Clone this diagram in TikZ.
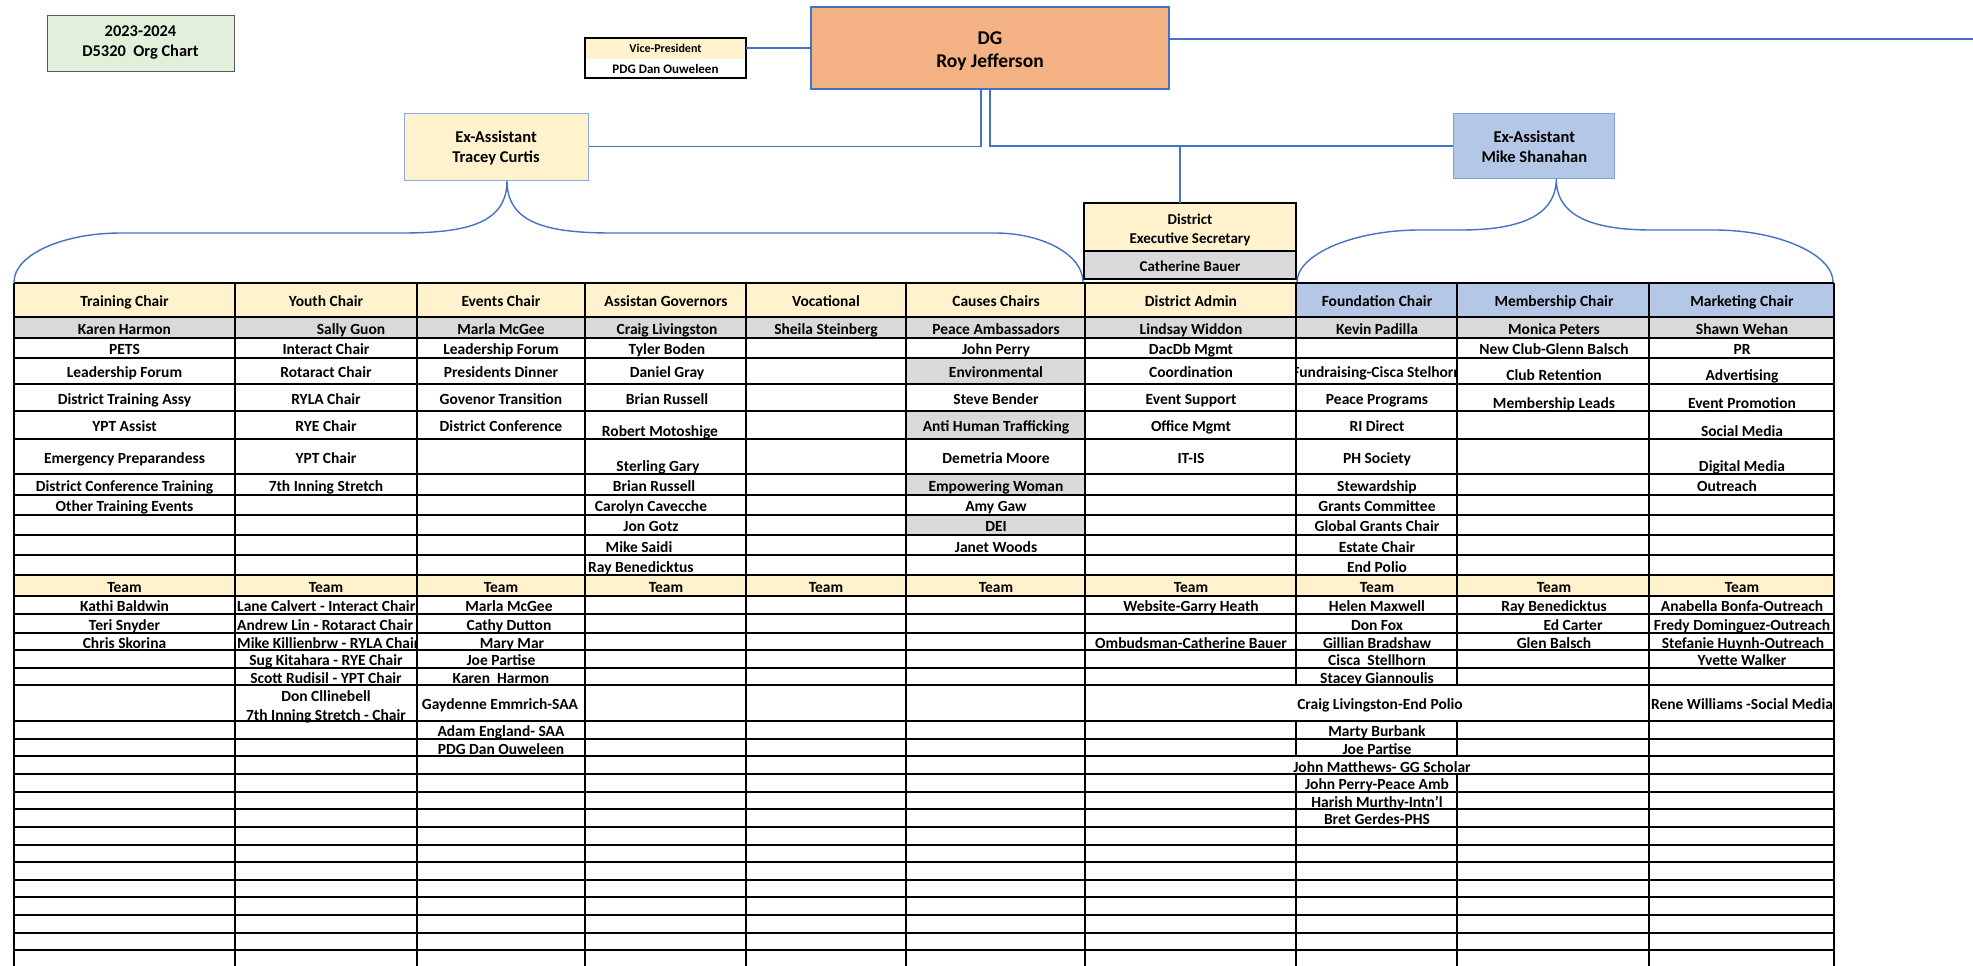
\documentclass[tikz,border=0pt]{standalone}
\usepackage{fontspec}
\setmainfont{Carlito}
\usetikzlibrary{positioning,calc}

\definecolor{hdryellow}{HTML}{FFF2CC}
\definecolor{hdrblue}{HTML}{B4C7E7}
\definecolor{cellgray}{HTML}{D9D9D9}
\definecolor{dgorange}{HTML}{F4B183}
\definecolor{titlegreen}{HTML}{E2EFDA}
\definecolor{linkblue}{HTML}{4472C4}
\definecolor{boxedge}{HTML}{8FAADC}

\tikzset{
  cell/.style={font=\bfseries\fontsize{15.5}{17}\selectfont, inner sep=0pt, text height=10.5pt, text depth=3.5pt, yshift=-2.5pt},
  link/.style={draw=linkblue, line width=1.8pt},
  brace/.style={draw=linkblue, line width=1.4pt},
  grid/.style={line width=1.6pt},
  topbox/.style={align=center, inner sep=0pt},
}

\begin{document}
\begin{tikzpicture}[x=1pt,y=-1pt]
\useasboundingbox (0,0) rectangle (1973,966);

% boxes on top
\node[topbox, draw=black!65, line width=0.8pt, fill=titlegreen, minimum width=187pt, minimum height=56pt,
  font=\bfseries\fontsize{16.4}{20}\selectfont] (title) at (140.5,43) {2023-2024\\D5320\ \ Org Chart};
\node[topbox, draw=linkblue, line width=1.2pt, fill=dgorange, minimum width=358pt, minimum height=82pt,
  font=\bfseries\fontsize{19.5}{22.6}\selectfont] (dg) at (990,48) {\rule{0pt}{19pt}DG\\Roy Jefferson};
\node[topbox, fill=hdryellow, minimum width=160pt, minimum height=21pt,
  font=\bfseries\fontsize{12}{14}\selectfont] (vptop) at (665.5,48.5) {Vice-President};
\node[topbox, fill=white, minimum width=160pt, minimum height=19pt,
  font=\bfseries\fontsize{13}{15}\selectfont] (vpbot) at (665.5,68.5) {PDG Dan Ouweleen};
\draw[line width=1.8pt] (vptop.north west) rectangle (vpbot.south east);
\node[topbox, draw=boxedge, line width=1pt, fill=hdryellow, minimum width=184pt, minimum height=67pt,
  font=\bfseries\fontsize{16.5}{20}\selectfont] (tracey) at (496,146.5) {\rule{0pt}{14.5pt}Ex-Assistant\\Tracey Curtis};
\node[topbox, draw=boxedge!80!linkblue, line width=1pt, fill=hdrblue, minimum width=161pt, minimum height=65pt,
  font=\bfseries\fontsize{16.5}{20}\selectfont] (mike) at (1534.3,145.7) {\rule{0pt}{14.5pt}Ex-Assistant\\Mike Shanahan};
\node[topbox, fill=hdryellow, minimum width=212pt, minimum height=48pt,
  font=\bfseries\fontsize{15}{19}\selectfont] (destop) at (1190,227) {\rule{0pt}{16pt}District\\Executive Secretary};
\node[topbox, fill=cellgray, minimum width=212pt, minimum height=28pt,
  font=\bfseries\fontsize{15}{17}\selectfont] (desbot) at (1190,265) {\rule{0pt}{12.5pt}Catherine Bauer};
\draw[line width=1.8pt] (destop.north west) rectangle (desbot.south east);
\draw[line width=1.8pt] (destop.south west) -- (destop.south east);

% connectors
\coordinate (farright) at (1973,39);
\draw[link] (vptop.east |- dg.west) -- (dg.west);
\draw[link] (dg.east |- farright) -- (farright);
\draw[link] ([xshift=-9pt]dg.south) |- (tracey.east);
\draw[link] (dg.south) |- (mike.west);
\draw[link] ([xshift=-10pt]destop.north) -- ([xshift=-10pt]destop.north |- mike.west);

% braces down to the table
\coordinate (tabL) at (14,282);
\coordinate (tabA) at (1083,282);
\coordinate (tabB) at (1297,282);
\coordinate (tabR) at (1833,282);
\draw[brace] (tabL) .. controls (14,255) and (62,233) .. (121,233) -- (402,233)
  .. controls (470,233) and (507,222) .. ([xshift=11pt]tracey.south)
  .. controls (507,222) and (544,233) .. (612,233) -- (995,233)
  .. controls (1043,233) and (1083,255) .. (tabA);
\draw[brace] (tabB) .. controls (1297,255) and (1352,230) .. (1420,230) -- (1460,230)
  .. controls (1520,230) and (1556,216) .. ([xshift=22pt]mike.south)
  .. controls (1556,216) and (1592,230) .. (1652,230) -- (1714,230)
  .. controls (1780,230) and (1833,255) .. (tabR);

% table fills
\fill[hdryellow] (14,283) rectangle (1296,317);
\fill[hdrblue] (1296,283) rectangle (1834,317);
\fill[cellgray] (14,317) rectangle (1834,338);
\foreach \a/\b in {358/384,411/439,474/495,515/535}
  \fill[cellgray] (906,\a) rectangle (1085,\b);
\fill[hdryellow] (14,575) rectangle (1834,596);

% table lines
\foreach \y in {317,338,358,384,411,439,474,495,515,535,555,575,596,614,633,650,668,685,721,739,756,774,792,809,827,845,862,880,897,915,933,950}
  \draw[grid] (14,\y) -- (1834,\y);
\draw[line width=2.6pt] (14,283) -- (1834,283);
\foreach \x in {14,235,417,585,746,906,1085,1649,1834}
  \draw[grid] (\x,283) -- (\x,972);
\foreach \x in {1296,1457} {
  \draw[grid] (\x,283) -- (\x,685);
  \draw[grid] (\x,721) -- (\x,756);
  \draw[grid] (\x,774) -- (\x,972);
}

% Training Chair
\foreach \y/\lbl [count=\k] in {300/Training Chair, 328/Karen Harmon, 348/PETS, 371/Leadership Forum,
  398/District Training Assy, 425/YPT Assist, 457/Emergency Preparandess, 485/District Conference Training,
  505/Other Training Events, 586/Team, 605/Kathi Baldwin, 624/Teri Snyder, 642/Chris Skorina}
  \node[cell] (train\k) at (124.5,\y) {\lbl};

% Youth Chair
\foreach \y/\lbl [count=\k] in {300/Youth Chair, 348/Interact Chair, 371/Rotaract Chair, 398/RYLA Chair,
  425/RYE Chair, 457/YPT Chair, 485/7th Inning Stretch, 586/Team, 659/Sug Kitahara - RYE Chair,
  677/Scott Rudisil - YPT Chair, 695/Don Cllinebell, 714/7th Inning Stretch - Chair}
  \node[cell] (youth\k) at (326,\y) {\lbl};
\node[cell] (sally) at (351,328) {Sally Guon};
\begin{scope}
  \clip (235,596) rectangle (416,650);
  \foreach \y/\lbl [count=\k] in {605/Lane Calvert - Interact Chair, 624/Andrew Lin - Rotaract Chair,
    642/Mike Killienbrw - RYLA Chair}
    \node[cell, anchor=west] (yteam\k) at (237,\y) {\lbl};
\end{scope}

% Events Chair
\foreach \x/\y/\lbl [count=\k] in {501/300/Events Chair, 501/328/Marla McGee, 501/348/Leadership Forum,
  501/371/Presidents Dinner, 501/398/Govenor Transition, 501/425/District Conference, 501/586/Team,
  509/605/Marla McGee, 509/624/Cathy Dutton, 512/642/Mary Mar, 501/659/Joe Partise, 501/677/Karen\ \ Harmon,
  500/703/Gaydenne Emmrich-SAA, 501/730/Adam England- SAA, 501/748/PDG Dan Ouweleen}
  \node[cell] (events\k) at (\x,\y) {\lbl};

% Assistan Governors
\foreach \x/\y/\lbl [count=\k] in {666/300/Assistan Governors, 667/328/Craig Livingston, 667/348/Tyler Boden,
  667/371/Daniel Gray, 667/398/Brian Russell, 660/430/Robert Motoshige, 658/465/Sterling Gary,
  654/485/Brian Russell, 651/505/Carolyn Cavecche, 651/525/Jon Gotz, 639/546/Mike Saidi, 666/586/Team}
  \node[cell] (asst\k) at (\x,\y) {\lbl};
\node[cell, anchor=west] (ray) at (588,566) {Ray Benedicktus};

% Vocational
\foreach \y/\lbl [count=\k] in {300/Vocational, 328/Sheila Steinberg, 586/Team}
  \node[cell] (voc\k) at (826,\y) {\lbl};

% Causes Chairs
\foreach \y/\lbl [count=\k] in {300/Causes Chairs, 328/Peace Ambassadors, 348/John Perry, 371/Environmental,
  398/Steve Bender, 425/Anti Human Trafficking, 457/Demetria Moore, 485/Empowering Woman, 505/Amy Gaw,
  525/DEI, 546/Janet Woods, 586/Team}
  \node[cell] (causes\k) at (996,\y) {\lbl};

% District Admin
\foreach \y/\lbl [count=\k] in {300/District Admin, 328/Lindsay Widdon, 348/DacDb Mgmt, 371/Coordination,
  398/Event Support, 425/Office Mgmt, 457/IT-IS, 586/Team, 605/Website-Garry Heath,
  642/Ombudsman-Catherine Bauer}
  \node[cell] (admin\k) at (1191,\y) {\lbl};

% Foundation Chair
\foreach \y/\lbl [count=\k] in {300/Foundation Chair, 328/Kevin Padilla, 398/Peace Programs, 425/RI Direct,
  457/PH Society, 485/Stewardship, 505/Grants Committee, 525/Global Grants Chair, 546/Estate Chair,
  566/End Polio, 586/Team, 605/Helen Maxwell, 624/Don Fox, 642/Gillian Bradshaw, 659/Cisca\ \ Stellhorn,
  677/Stacey Giannoulis, 730/Marty Burbank, 748/Joe Partise, 783/John Perry-Peace Amb,
  801/Harish Murthy-Intn'l, 818/Bret Gerdes-PHS}
  \node[cell] (found\k) at (1377,\y) {\lbl};
\begin{scope}
  \clip (1297,358) rectangle (1456,384);
  \node[cell] (fundraise) at (1377,371) {Fundraising-Cisca Stelhorn};
\end{scope}
\node[cell] (polio) at (1380,703) {Craig Livingston-End Polio};
\node[cell] (matthews) at (1382,766) {John Matthews- GG Scholar};

% Membership Chair
\foreach \x/\y/\lbl [count=\k] in {1554/300/Membership Chair, 1554/328/Monica Peters,
  1554/348/New Club-Glenn Balsch, 1554/374/Club Retention, 1554/402/Membership Leads, 1554/586/Team,
  1554/605/Ray Benedicktus, 1573/624/Ed Carter, 1554/642/Glen Balsch}
  \node[cell] (member\k) at (\x,\y) {\lbl};

% Marketing Chair
\foreach \x/\y/\lbl [count=\k] in {1742/300/Marketing Chair, 1742/328/Shawn Wehan, 1742/348/PR,
  1742/374/Advertising, 1742/402/Event Promotion, 1742/430/Social Media, 1742/465/Digital Media,
  1727/485/Outreach, 1742/586/Team, 1742/605/Anabella Bonfa-Outreach, 1742/624/Fredy Dominguez-Outreach,
  1743/642/Stefanie Huynh-Outreach, 1742/659/Yvette Walker, 1742/703/Rene Williams -Social Media}
  \node[cell] (market\k) at (\x,\y) {\lbl};
\end{tikzpicture}
\end{document}
